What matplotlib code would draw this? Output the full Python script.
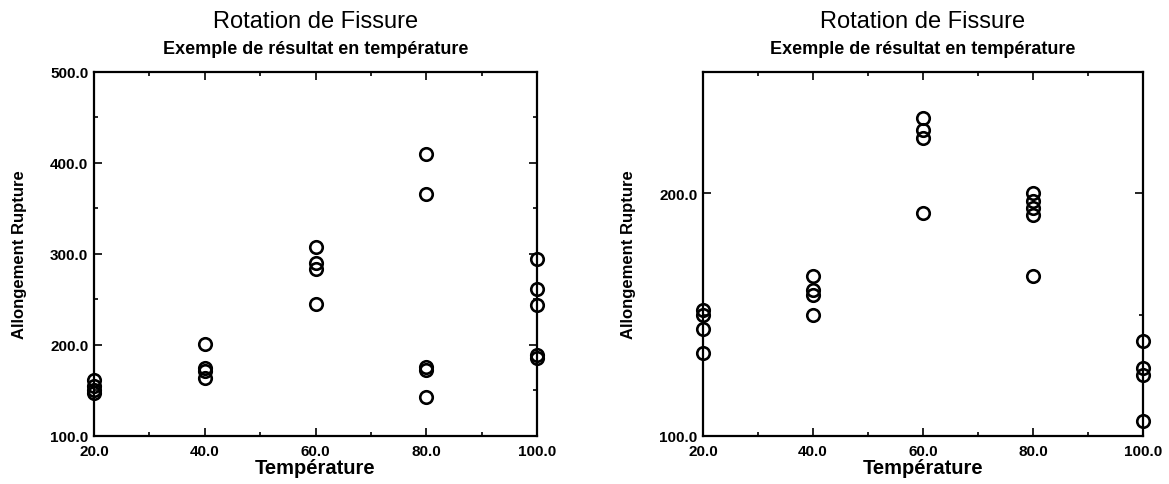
import matplotlib.pyplot as plt
from matplotlib.ticker import MultipleLocator, FormatStrFormatter

plt.rcParams['font.family'] = ['Liberation Sans', 'DejaVu Sans']

# left chart: temperature vs elongation
temps_left = [20, 20, 20, 20,
              40, 40, 40, 40,
              60, 60, 60, 60,
              80, 80, 80, 80, 80,
              100, 100, 100, 100, 100]
allong_left = [161, 155, 150, 147,
               201, 175, 171, 164,
               308, 290, 284, 245,
               410, 366, 176, 173, 143,
               294, 262, 244, 189, 186]

# right chart
temps_right = [20, 20, 20, 20,
               40, 40, 40, 40,
               60, 60, 60, 60,
               80, 80, 80, 80, 80,
               100, 100, 100, 100]
allong_right = [152, 150, 144, 134,
                166, 160, 158, 150,
                231, 226, 223, 192,
                200, 197, 194, 191, 166,
                139, 128, 125, 106]

TITLE = "Rotation de Fissure"
SUBTITLE = "Exemple de résultat en température"
XLABEL = "Température"
YLABEL = "Allongement Rupture"

fig = plt.figure(figsize=(11.69, 4.85), dpi=100)
ax1 = fig.add_axes([0.0804, 0.099, 0.379, 0.7505])
ax2 = fig.add_axes([0.6014, 0.099, 0.3764, 0.7505])


def style(ax, xs, ys, ylim, ymajor, yminor):
    ax.plot(xs, ys, 'o', mfc='none', mec='black', ms=9, mew=1.9, clip_on=False)
    ax.set_xlim(20, 100)
    ax.set_ylim(*ylim)
    ax.xaxis.set_major_locator(MultipleLocator(20))
    ax.xaxis.set_minor_locator(MultipleLocator(10))
    ax.yaxis.set_major_locator(MultipleLocator(ymajor))
    ax.yaxis.set_minor_locator(MultipleLocator(yminor))
    ax.xaxis.set_major_formatter(FormatStrFormatter('%.1f'))
    ax.yaxis.set_major_formatter(FormatStrFormatter('%.1f'))
    ax.tick_params(which='both', direction='in', top=True, right=True, width=1.2)
    ax.tick_params(which='major', length=6, labelsize=11)
    ax.tick_params(which='minor', length=3)
    ax.tick_params(axis='x', which='major', pad=6)
    ax.tick_params(axis='y', which='major', pad=4)
    for lab in ax.get_xticklabels() + ax.get_yticklabels():
        lab.set_fontweight('bold')
    for sp in ax.spines.values():
        sp.set_linewidth(1.6)
    ax.set_xlabel(XLABEL, fontsize=14.5, fontweight='bold', labelpad=0)
    ax.set_ylabel(YLABEL, fontsize=12, fontweight='bold')
    ax.yaxis.set_label_coords(-0.151, 0.5)
    bb = ax.get_position()
    cx = (bb.x0 + bb.x1) / 2
    fig.text(cx, 0.955, TITLE, ha='center', va='center', fontsize=17)
    fig.text(cx, 0.897, SUBTITLE, ha='center', va='center', fontsize=13, fontweight='bold')


style(ax1, temps_left, allong_left, (100, 500), 100, 50)
style(ax2, temps_right, allong_right, (100, 250), 100, 50)
ax2.yaxis.set_label_coords(-0.152, 0.5)

fig.savefig("out.png", dpi=100)
